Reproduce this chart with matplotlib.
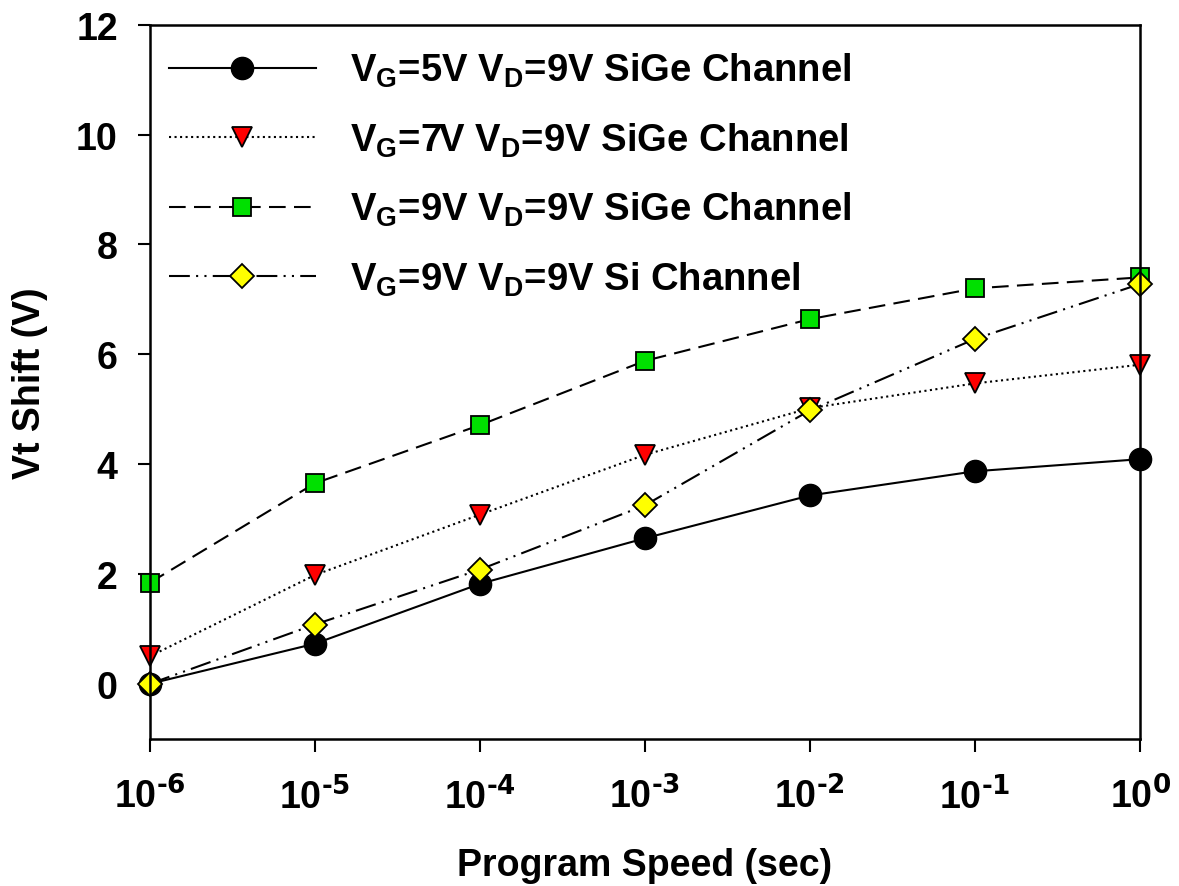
import numpy as np
import matplotlib
matplotlib.use("Agg")
import matplotlib.pyplot as plt

plt.rcParams['font.family'] = ['Liberation Sans', 'DejaVu Sans']
plt.rcParams['font.weight'] = 'bold'
plt.rcParams['mathtext.default'] = 'regular'

# data
speed = [1e-6, 1e-5, 1e-4, 1e-3, 1e-2, 1e-1, 1e0]
vg5_sige = [0.0, 0.73, 1.82, 2.65, 3.43, 3.87, 4.09]
vg7_sige = [0.5, 1.98, 3.08, 4.17, 5.02, 5.47, 5.81]
vg9_sige = [1.84, 3.65, 4.71, 5.88, 6.64, 7.2, 7.4]
vg9_si = [0.0, 1.08, 2.08, 3.25, 4.98, 6.28, 7.28]

labels = [r'V$_{G}$=5V V$_{D}$=9V SiGe Channel',
          r'V$_{G}$=7V V$_{D}$=9V SiGe Channel',
          r'V$_{G}$=9V V$_{D}$=9V SiGe Channel',
          r'V$_{G}$=9V V$_{D}$=9V Si Channel']

fig = plt.figure(figsize=(11.79, 8.87), dpi=100)
ax = fig.add_axes([0.127, 0.166, 0.84, 0.805])

ax.plot(speed, vg5_sige, '-', color='black', lw=1.5, marker='o', ms=16,
        mfc='black', mec='black', label=labels[0], clip_on=False)
ax.plot(speed, vg7_sige, ':', color='black', lw=1.5, marker='v', ms=14,
        mfc='red', mec='black', mew=1.3, label=labels[1], clip_on=False)
ax.plot(speed, vg9_sige, color='black', lw=1.5, ls=(0, (8, 4)), marker='s', ms=13,
        mfc='#00e000', mec='black', mew=1.3, label=labels[2], clip_on=False)
ax.plot(speed, vg9_si, color='black', lw=1.5, ls=(0, (10, 3, 1, 3, 1, 3)), marker='D', ms=12,
        mfc='yellow', mec='black', mew=1.3, label=labels[3], clip_on=False)

ax.set_xscale('log')
ax.set_xlim(1e-6, 1e0)
ax.set_ylim(-1, 12)
ax.set_yticks([0, 2, 4, 6, 8, 10, 12])
ax.set_xticks(speed)
ax.set_xticklabels([r'10$^{\text{%d}}$' % int(np.log10(s)) for s in speed])
ax.minorticks_off()
ax.tick_params(direction='out', length=9, width=1.5, labelsize=27)
ax.tick_params(axis='y', pad=14)
ax.tick_params(axis='x', pad=18)
for sp in ax.spines.values():
    sp.set_linewidth(1.8)

ax.set_xlabel('Program Speed (sec)', fontsize=27, fontweight='bold', labelpad=22)
ax.set_ylabel('Vt Shift (V)', fontsize=27, fontweight='bold', labelpad=20)

ax.legend(loc='upper left', frameon=False, fontsize=27.5, handlelength=3.85,
          handletextpad=0.9, labelspacing=0.82, borderaxespad=0.1,
          bbox_to_anchor=(0.0, 0.99))

fig.savefig('out.png', dpi=100)
